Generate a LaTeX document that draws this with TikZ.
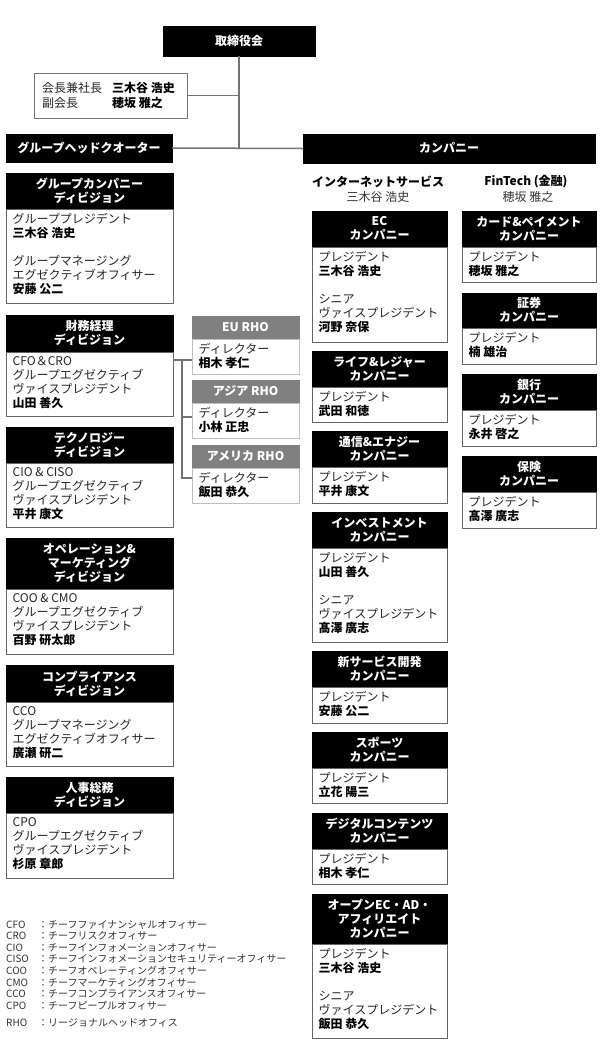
\documentclass[tikz,border=0pt]{standalone}
\usepackage{fontspec}
\setmainfont{Noto Sans CJK JP}
\newcommand\jst{\rule[-1.4pt]{0pt}{10.6pt}}
\newcommand\lst{\rule[-1.2pt]{0pt}{8.8pt}}
\newcommand\nm[1]{\textcolor{black}{\bfseries #1}}
\tikzset{
  hdr/.style={fill=black, draw=black, line width=0.5pt, text=white,
    font=\bfseries\fontsize{12}{14}\selectfont, align=center,
    inner sep=0pt, outer sep=0pt, anchor=north west},
  ghdr/.style={hdr, fill=black!50, draw=black!50},
  bdy/.style={draw=black!60, line width=1pt, fill=white, inner sep=0pt,
    outer sep=0pt, anchor=north west},
  gbdy/.style={bdy, draw=black!25},
  btxt/.style={anchor=north west, align=left, inner sep=0pt, text=black!85,
    font=\fontsize{12}{14}\selectfont},
  conn/.style={draw=black!55, line width=1.5pt},
  rconn/.style={draw=black!55, line width=1.2pt},
  lbl/.style={inner sep=0pt, font=\fontsize{12}{14}\selectfont},
}
% #1 name, #2 x, #3 y, #4 width, #5 header h, #6 body h, #7 header, #8 body, #9 kind
\newcommand\orgbox[9]{%
  \node[#9hdr, minimum width=#4pt, minimum height=#5pt] (#1) at (#2,#3) {#7};
  \node[#9bdy, minimum width=#4pt, minimum height=#6pt] (#1-b) at (#1.south west) {};
  \node[btxt] (#1-t) at ([xshift=6.5pt,yshift=-4pt]#1-b.north west) {#8};
}
\begin{document}
\begin{tikzpicture}[x=1pt,y=-1pt]
\fill[white] (0,0) rectangle (600,1045);
\useasboundingbox (0,0) rectangle (600,1045);

% top level
\node[hdr, minimum width=152pt, minimum height=30pt] (board) at (163,26) {\jst 取締役会};
\node[bdy, draw=black!55, minimum width=153pt, minimum height=45pt] (chair) at (34,73) {};
\node[btxt, font=\fontsize{12}{15}\selectfont] (chair-t) at (42,82)
  {\jst\makebox[70pt][l]{会長兼社長}\nm{三木谷 浩史}\\\jst\makebox[70pt][l]{副会長}\nm{穂坂 雅之}};
\node[hdr, minimum width=166pt, minimum height=28pt] (hq) at (6,134) {\jst グループヘッドクオーター};
\node[hdr, minimum width=292pt, minimum height=29pt] (company) at (303,134) {\jst カンパニー};

\draw[conn] (board.south) -- (board.south |- hq.east);
\draw[conn] (hq.east) -- (company.west);
\draw[conn] (chair.east) -- (chair.east -| board.south);

\node[lbl, font=\bfseries\fontsize{12}{14}\selectfont] (isv) at (378,182) {\jst インターネットサービス};
\node[lbl, text=black!80] (isv-n) at (378,197) {\jst 三木谷 浩史};
\node[lbl, font=\bfseries\fontsize{12}{14}\selectfont] (fin-lbl) at (526,182) {\jst FinTech (金融)};
\node[lbl, text=black!80] (fin-n) at (528,197) {\jst 穂坂 雅之};

% left column
\orgbox{gcd}{6}{173}{167}{36}{94}{\jst グループカンパニー\\\jst ディビジョン}
  {\jst グループプレジデント\\\jst\nm{三木谷 浩史}\\\jst\\\jst グループマネージング\\\jst エグゼクティブオフィサー\\\jst\nm{安藤 公二}}{}
\orgbox{fin}{6}{315}{167}{37}{64}{\jst 財務経理\\\jst ディビジョン}
  {\jst CFO＆CRO\\\jst グループエグゼクティブ\\\jst ヴァイスプレジデント\\\jst\nm{山田 善久}}{}
\orgbox{tech}{6}{427}{167}{36}{64}{\jst テクノロジー\\\jst ディビジョン}
  {\jst CIO \& CISO\\\jst グループエグゼクティブ\\\jst ヴァイスプレジデント\\\jst\nm{平井 康文}}{}
\orgbox{ops}{6}{538}{167}{51}{65}{\jst オペレーション\&\\\jst マーケティング\\\jst ディビジョン}
  {\jst COO \& CMO\\\jst グループエグゼクティブ\\\jst ヴァイスプレジデント\\\jst\nm{百野 研太郎}}{}
\orgbox{comp}{6}{665}{167}{37}{64}{\jst コンプライアンス\\\jst ディビジョン}
  {\jst CCO\\\jst グループマネージング\\\jst エグゼクティブオフィサー\\\jst\nm{廣瀬 研二}}{}
\orgbox{hr}{6}{777}{167}{36}{65}{\jst 人事総務\\\jst ディビジョン}
  {\jst CPO\\\jst グループエグゼクティブ\\\jst ヴァイスプレジデント\\\jst\nm{杉原 章郎}}{}

% RHO
\orgbox{eu}{192}{316}{107}{23}{35}{\jst EU RHO}{\jst ディレクター\\\jst\nm{相木 孝仁}}{g}
\orgbox{as}{192}{380}{107}{23}{35}{\jst アジア RHO}{\jst ディレクター\\\jst\nm{小林 正忠}}{g}
\orgbox{am}{192}{445}{107}{23}{35}{\jst アメリカ RHO}{\jst ディレクター\\\jst\nm{飯田 恭久}}{g}
\coordinate (rj) at (182,360);
\draw[rconn] ([yshift=24pt]fin-b.east) -- ([yshift=-3.5pt]eu-b.west);
\draw[rconn] (rj) |- ([yshift=3.5pt]as-b.west);
\draw[rconn] (rj) |- ([yshift=7.5pt]am-b.west);

% internet services column
\orgbox{ec}{312}{211}{135}{36}{95}{\jst EC\\\jst カンパニー}
  {\jst プレジデント\\\jst\nm{三木谷 浩史}\\\jst\\\jst シニア\\\jst ヴァイスプレジデント\\\jst\nm{河野 奈保}}{}
\orgbox{life}{312}{351}{135}{36}{35}{\jst ライフ\&レジャー\\\jst カンパニー}
  {\jst プレジデント\\\jst\nm{武田 和徳}}{}
\orgbox{tel}{312}{431}{135}{36}{36}{\jst 通信\&エナジー\\\jst カンパニー}
  {\jst プレジデント\\\jst\nm{平井 康文}}{}
\orgbox{inv}{312}{512}{135}{36}{94}{\jst インベストメント\\\jst カンパニー}
  {\jst プレジデント\\\jst\nm{山田 善久}\\\jst\\\jst シニア\\\jst ヴァイスプレジデント\\\jst\nm{髙澤 廣志}}{}
\orgbox{new}{312}{651}{135}{36}{36}{\jst 新サービス開発\\\jst カンパニー}
  {\jst プレジデント\\\jst\nm{安藤 公二}}{}
\orgbox{spo}{312}{732}{135}{36}{35}{\jst スポーツ\\\jst カンパニー}
  {\jst プレジデント\\\jst\nm{立花 陽三}}{}
\orgbox{dig}{312}{813}{135}{36}{35}{\jst デジタルコンテンツ\\\jst カンパニー}
  {\jst プレジデント\\\jst\nm{相木 孝仁}}{}
\orgbox{open}{312}{894}{135}{50}{94}{\jst オープンEC・AD・\\\jst アフィリエイト\\\jst カンパニー}
  {\jst プレジデント\\\jst\nm{三木谷 浩史}\\\jst\\\jst シニア\\\jst ヴァイスプレジデント\\\jst\nm{飯田 恭久}}{}

% fintech column
\orgbox{card}{462}{211}{134}{36}{35}{\jst カード\&ペイメント\\\jst カンパニー}
  {\jst プレジデント\\\jst\nm{穂坂 雅之}}{}
\orgbox{sec}{462}{293}{134}{35}{36}{\jst 証券\\\jst カンパニー}
  {\jst プレジデント\\\jst\nm{楠 雄治}}{}
\orgbox{bank}{462}{374}{134}{36}{36}{\jst 銀行\\\jst カンパニー}
  {\jst プレジデント\\\jst\nm{永井 啓之}}{}
\orgbox{ins}{462}{456}{134}{36}{36}{\jst 保険\\\jst カンパニー}
  {\jst プレジデント\\\jst\nm{髙澤 廣志}}{}

% legend
\node[anchor=north west, align=left, inner sep=0pt, text=black!80,
  font=\fontsize{10}{11.6}\selectfont] (legend) at (6,920)
  {\lst\makebox[32pt][l]{CFO}：チーフファイナンシャルオフィサー\\
   \lst\makebox[32pt][l]{CRO}：チーフリスクオフィサー\\
   \lst\makebox[32pt][l]{CIO}：チーフインフォメーションオフィサー\\
   \lst\makebox[32pt][l]{CISO}：チーフインフォメーションセキュリティーオフィサー\\
   \lst\makebox[32pt][l]{COO}：チーフオペレーティングオフィサー\\
   \lst\makebox[32pt][l]{CMO}：チーフマーケティングオフィサー\\
   \lst\makebox[32pt][l]{CCO}：チーフコンプライアンスオフィサー\\
   \lst\makebox[32pt][l]{CPO}：チーフピープルオフィサー\\[5.4pt]
   \lst\makebox[32pt][l]{RHO}：リージョナルヘッドオフィス};
\end{tikzpicture}
\end{document}
